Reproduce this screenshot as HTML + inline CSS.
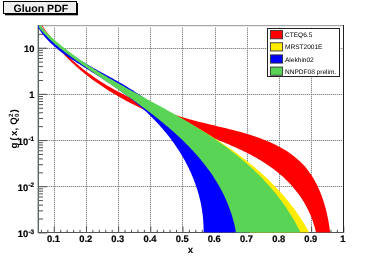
<!DOCTYPE html>
<html><head><meta charset="utf-8"><title>Gluon PDF</title>
<style>
html,body{margin:0;padding:0;background:#fff;}
body{width:382px;height:259px;overflow:hidden;font-family:"Liberation Sans",sans-serif;}
svg{display:block;will-change:transform;}
</style></head><body>
<svg width="382" height="259" viewBox="0 0 382 259" text-rendering="geometricPrecision">
<!-- title box -->
<rect x="5" y="3" width="73" height="12.3" fill="#000"/>
<rect x="3.5" y="1.5" width="73" height="12" fill="#efefef" stroke="#000" stroke-width="1"/>
<text x="40.9" y="11.7" text-anchor="middle" font-family="Liberation Sans, sans-serif" font-weight="bold" font-size="10.6" fill="#000">Gluon PDF</text>
<!-- bands -->
<defs><clipPath id="fr"><rect x="38.1" y="25.6" width="305.2" height="206.8"/></clipPath></defs>
<g stroke="#d6d6d6" stroke-width="1" shape-rendering="crispEdges"><line x1="54.5" y1="26.0" x2="54.5" y2="232.8"/><line x1="86.5" y1="26.0" x2="86.5" y2="232.8"/><line x1="118.5" y1="26.0" x2="118.5" y2="232.8"/><line x1="150.5" y1="26.0" x2="150.5" y2="232.8"/><line x1="182.5" y1="26.0" x2="182.5" y2="232.8"/><line x1="215.5" y1="26.0" x2="215.5" y2="232.8"/><line x1="247.5" y1="26.0" x2="247.5" y2="232.8"/><line x1="279.5" y1="26.0" x2="279.5" y2="232.8"/><line x1="311.5" y1="26.0" x2="311.5" y2="232.8"/><line x1="38.5" y1="186.5" x2="343.5" y2="186.5"/><line x1="38.5" y1="140.5" x2="343.5" y2="140.5"/><line x1="38.5" y1="94.5" x2="343.5" y2="94.5"/><line x1="38.5" y1="48.5" x2="343.5" y2="48.5"/></g><g stroke="#8a8a8a" stroke-width="1" stroke-dasharray="1 1" shape-rendering="crispEdges"><line x1="54.5" y1="26.0" x2="54.5" y2="232.8"/><line x1="86.5" y1="26.0" x2="86.5" y2="232.8"/><line x1="118.5" y1="26.0" x2="118.5" y2="232.8"/><line x1="150.5" y1="26.0" x2="150.5" y2="232.8"/><line x1="182.5" y1="26.0" x2="182.5" y2="232.8"/><line x1="215.5" y1="26.0" x2="215.5" y2="232.8"/><line x1="247.5" y1="26.0" x2="247.5" y2="232.8"/><line x1="279.5" y1="26.0" x2="279.5" y2="232.8"/><line x1="311.5" y1="26.0" x2="311.5" y2="232.8"/><line x1="38.5" y1="186.5" x2="343.5" y2="186.5"/><line x1="38.5" y1="140.5" x2="343.5" y2="140.5"/><line x1="38.5" y1="94.5" x2="343.5" y2="94.5"/><line x1="38.5" y1="48.5" x2="343.5" y2="48.5"/></g>
<g stroke="#505050" stroke-width="1"><line x1="41.42" y1="232.80" x2="41.42" y2="229.80"/><line x1="47.85" y1="232.80" x2="47.85" y2="229.80"/><line x1="54.29" y1="232.80" x2="54.29" y2="226.60"/><line x1="60.72" y1="232.80" x2="60.72" y2="229.80"/><line x1="67.15" y1="232.80" x2="67.15" y2="229.80"/><line x1="73.59" y1="232.80" x2="73.59" y2="229.80"/><line x1="80.02" y1="232.80" x2="80.02" y2="229.80"/><line x1="86.46" y1="232.80" x2="86.46" y2="226.60"/><line x1="92.89" y1="232.80" x2="92.89" y2="229.80"/><line x1="99.32" y1="232.80" x2="99.32" y2="229.80"/><line x1="105.76" y1="232.80" x2="105.76" y2="229.80"/><line x1="112.19" y1="232.80" x2="112.19" y2="229.80"/><line x1="118.62" y1="232.80" x2="118.62" y2="226.60"/><line x1="125.06" y1="232.80" x2="125.06" y2="229.80"/><line x1="131.49" y1="232.80" x2="131.49" y2="229.80"/><line x1="137.93" y1="232.80" x2="137.93" y2="229.80"/><line x1="144.36" y1="232.80" x2="144.36" y2="229.80"/><line x1="150.80" y1="232.80" x2="150.80" y2="226.60"/><line x1="157.23" y1="232.80" x2="157.23" y2="229.80"/><line x1="163.66" y1="232.80" x2="163.66" y2="229.80"/><line x1="170.10" y1="232.80" x2="170.10" y2="229.80"/><line x1="176.53" y1="232.80" x2="176.53" y2="229.80"/><line x1="182.96" y1="232.80" x2="182.96" y2="226.60"/><line x1="189.40" y1="232.80" x2="189.40" y2="229.80"/><line x1="195.83" y1="232.80" x2="195.83" y2="229.80"/><line x1="202.27" y1="232.80" x2="202.27" y2="229.80"/><line x1="208.70" y1="232.80" x2="208.70" y2="229.80"/><line x1="215.13" y1="232.80" x2="215.13" y2="226.60"/><line x1="221.57" y1="232.80" x2="221.57" y2="229.80"/><line x1="228.00" y1="232.80" x2="228.00" y2="229.80"/><line x1="234.44" y1="232.80" x2="234.44" y2="229.80"/><line x1="240.87" y1="232.80" x2="240.87" y2="229.80"/><line x1="247.31" y1="232.80" x2="247.31" y2="226.60"/><line x1="253.74" y1="232.80" x2="253.74" y2="229.80"/><line x1="260.17" y1="232.80" x2="260.17" y2="229.80"/><line x1="266.61" y1="232.80" x2="266.61" y2="229.80"/><line x1="273.04" y1="232.80" x2="273.04" y2="229.80"/><line x1="279.47" y1="232.80" x2="279.47" y2="226.60"/><line x1="285.91" y1="232.80" x2="285.91" y2="229.80"/><line x1="292.34" y1="232.80" x2="292.34" y2="229.80"/><line x1="298.78" y1="232.80" x2="298.78" y2="229.80"/><line x1="305.21" y1="232.80" x2="305.21" y2="229.80"/><line x1="311.64" y1="232.80" x2="311.64" y2="226.60"/><line x1="318.08" y1="232.80" x2="318.08" y2="229.80"/><line x1="324.51" y1="232.80" x2="324.51" y2="229.80"/><line x1="330.95" y1="232.80" x2="330.95" y2="229.80"/><line x1="337.38" y1="232.80" x2="337.38" y2="229.80"/><line x1="343.81" y1="232.80" x2="343.81" y2="226.60"/><line x1="38.50" y1="232.90" x2="47.00" y2="232.90"/><line x1="38.50" y1="219.00" x2="43.00" y2="219.00"/><line x1="38.50" y1="210.87" x2="43.00" y2="210.87"/><line x1="38.50" y1="205.10" x2="43.00" y2="205.10"/><line x1="38.50" y1="200.63" x2="43.00" y2="200.63"/><line x1="38.50" y1="196.97" x2="43.00" y2="196.97"/><line x1="38.50" y1="193.88" x2="43.00" y2="193.88"/><line x1="38.50" y1="191.20" x2="43.00" y2="191.20"/><line x1="38.50" y1="188.84" x2="43.00" y2="188.84"/><line x1="38.50" y1="186.73" x2="47.00" y2="186.73"/><line x1="38.50" y1="172.83" x2="43.00" y2="172.83"/><line x1="38.50" y1="164.70" x2="43.00" y2="164.70"/><line x1="38.50" y1="158.93" x2="43.00" y2="158.93"/><line x1="38.50" y1="154.46" x2="43.00" y2="154.46"/><line x1="38.50" y1="150.80" x2="43.00" y2="150.80"/><line x1="38.50" y1="147.71" x2="43.00" y2="147.71"/><line x1="38.50" y1="145.03" x2="43.00" y2="145.03"/><line x1="38.50" y1="142.67" x2="43.00" y2="142.67"/><line x1="38.50" y1="140.56" x2="47.00" y2="140.56"/><line x1="38.50" y1="126.66" x2="43.00" y2="126.66"/><line x1="38.50" y1="118.53" x2="43.00" y2="118.53"/><line x1="38.50" y1="112.76" x2="43.00" y2="112.76"/><line x1="38.50" y1="108.29" x2="43.00" y2="108.29"/><line x1="38.50" y1="104.63" x2="43.00" y2="104.63"/><line x1="38.50" y1="101.54" x2="43.00" y2="101.54"/><line x1="38.50" y1="98.86" x2="43.00" y2="98.86"/><line x1="38.50" y1="96.50" x2="43.00" y2="96.50"/><line x1="38.50" y1="94.39" x2="47.00" y2="94.39"/><line x1="38.50" y1="80.49" x2="43.00" y2="80.49"/><line x1="38.50" y1="72.36" x2="43.00" y2="72.36"/><line x1="38.50" y1="66.59" x2="43.00" y2="66.59"/><line x1="38.50" y1="62.12" x2="43.00" y2="62.12"/><line x1="38.50" y1="58.46" x2="43.00" y2="58.46"/><line x1="38.50" y1="55.37" x2="43.00" y2="55.37"/><line x1="38.50" y1="52.69" x2="43.00" y2="52.69"/><line x1="38.50" y1="50.33" x2="43.00" y2="50.33"/><line x1="38.50" y1="48.22" x2="47.00" y2="48.22"/><line x1="38.50" y1="34.32" x2="43.00" y2="34.32"/></g>
<!-- frame -->
<g shape-rendering="crispEdges">
<rect x="38" y="25" width="306" height="1" fill="#a4a4a4"/>
<rect x="38" y="26" width="306" height="1" fill="#ececec"/>
<rect x="37" y="25" width="1" height="208" fill="#c4c4c4"/>
<rect x="38" y="25" width="1" height="208" fill="#55695f"/>
<rect x="343" y="25" width="1" height="208" fill="#222"/>
<rect x="38" y="232" width="306" height="1" fill="#555"/>
</g>
<g clip-path="url(#fr)">
<path d="M42.44 25.50 L43.50 27.45 L44.90 29.44 L46.32 31.41 L47.76 33.35 L49.23 35.27 L50.72 37.16 L52.22 39.03 L53.75 40.88 L55.30 42.70 L56.87 44.50 L58.46 46.27 L60.07 48.02 L61.70 49.75 L63.34 51.45 L65.01 53.13 L66.69 54.79 L68.39 56.43 L70.12 58.04 L71.85 59.63 L73.61 61.20 L75.38 62.75 L77.17 64.28 L78.98 65.78 L80.80 67.27 L82.64 68.73 L84.50 70.17 L86.37 71.59 L88.25 72.99 L90.15 74.37 L92.07 75.74 L94.00 77.08 L95.94 78.40 L97.90 79.70 L99.87 80.98 L101.86 82.25 L103.86 83.49 L105.87 84.72 L107.89 85.92 L109.93 87.11 L111.98 88.28 L114.04 89.43 L116.11 90.57 L118.20 91.68 L120.29 92.78 L122.40 93.86 L124.51 94.93 L126.64 95.98 L128.77 97.01 L130.92 98.02 L133.08 99.02 L135.24 100.00 L137.41 100.97 L139.60 101.92 L141.79 102.85 L143.98 103.77 L146.19 104.67 L148.40 105.56 L150.63 106.43 L152.85 107.29 L155.09 108.13 L157.33 108.96 L159.58 109.78 L161.83 110.58 L164.09 111.36 L166.36 112.14 L168.63 112.90 L170.90 113.64 L173.18 114.38 L175.46 115.10 L177.75 115.80 L180.04 116.50 L182.34 117.18 L184.64 117.85 L186.94 118.51 L189.24 119.16 L191.55 119.79 L193.86 120.41 L196.17 121.03 L198.48 121.63 L200.80 122.22 L203.11 122.79 L205.43 123.36 L207.74 123.93 L210.06 124.48 L212.38 125.04 L214.69 125.59 L217.01 126.13 L219.32 126.68 L221.63 127.23 L223.94 127.79 L226.24 128.34 L228.55 128.91 L230.85 129.48 L233.14 130.06 L235.44 130.65 L237.73 131.26 L240.01 131.87 L242.29 132.51 L244.56 133.15 L246.83 133.82 L249.09 134.51 L251.34 135.22 L253.59 135.95 L255.83 136.71 L258.06 137.49 L260.29 138.30 L262.50 139.13 L264.71 140.00 L266.91 140.90 L269.09 141.83 L271.26 142.80 L273.42 143.80 L275.56 144.84 L277.67 145.91 L279.77 147.02 L281.83 148.17 L283.87 149.36 L285.88 150.60 L287.86 151.87 L289.80 153.18 L291.71 154.54 L293.58 155.95 L295.41 157.40 L297.19 158.89 L298.93 160.44 L300.62 162.03 L302.26 163.68 L303.85 165.37 L305.39 167.12 L306.87 168.91 L308.30 170.76 L309.67 172.64 L311.00 174.57 L312.28 176.55 L313.50 178.56 L314.68 180.61 L315.81 182.69 L316.89 184.81 L317.93 186.95 L318.92 189.13 L319.87 191.33 L320.77 193.55 L321.63 195.80 L322.45 198.06 L323.22 200.35 L323.96 202.65 L324.65 204.96 L325.31 207.29 L325.93 209.62 L326.51 211.96 L327.05 214.31 L327.56 216.66 L328.03 219.01 L328.47 221.36 L328.88 223.71 L329.25 226.05 L329.59 228.38 L329.90 230.70 L330.70 232.80 L316.00 232.80 L315.55 230.80 L315.00 228.57 L314.40 226.35 L313.75 224.15 L313.06 221.98 L312.31 219.84 L311.52 217.72 L310.68 215.62 L309.79 213.54 L308.86 211.49 L307.89 209.47 L306.87 207.47 L305.81 205.49 L304.71 203.55 L303.56 201.62 L302.38 199.73 L301.16 197.86 L299.90 196.02 L298.60 194.20 L297.27 192.41 L295.90 190.65 L294.50 188.92 L293.06 187.22 L291.59 185.54 L290.09 183.89 L288.56 182.28 L287.00 180.69 L285.40 179.13 L283.78 177.60 L282.14 176.10 L280.46 174.63 L278.76 173.19 L277.03 171.79 L275.28 170.41 L273.51 169.06 L271.72 167.74 L269.90 166.45 L268.06 165.18 L266.21 163.94 L264.33 162.73 L262.44 161.54 L260.53 160.37 L258.61 159.23 L256.67 158.11 L254.72 157.01 L252.75 155.93 L250.77 154.87 L248.79 153.84 L246.79 152.82 L244.78 151.81 L242.76 150.83 L240.74 149.86 L238.71 148.91 L236.68 147.97 L234.64 147.05 L232.60 146.14 L230.55 145.24 L228.50 144.35 L226.44 143.48 L224.39 142.61 L222.33 141.76 L220.26 140.91 L218.20 140.08 L216.13 139.25 L214.06 138.42 L211.98 137.61 L209.91 136.79 L207.83 135.99 L205.75 135.18 L203.67 134.38 L201.58 133.58 L199.50 132.79 L197.42 131.99 L195.33 131.19 L193.24 130.40 L191.16 129.60 L189.07 128.80 L186.98 127.99 L184.89 127.18 L182.81 126.37 L180.72 125.55 L178.64 124.73 L176.55 123.90 L174.47 123.06 L172.38 122.22 L170.30 121.36 L168.22 120.51 L166.15 119.64 L164.07 118.77 L162.00 117.88 L159.93 116.99 L157.87 116.09 L155.81 115.19 L153.75 114.27 L151.70 113.34 L149.65 112.41 L147.60 111.47 L145.56 110.51 L143.53 109.55 L141.50 108.57 L139.48 107.59 L137.46 106.59 L135.45 105.59 L133.44 104.57 L131.45 103.54 L129.46 102.50 L127.47 101.45 L125.50 100.38 L123.53 99.30 L121.57 98.22 L119.62 97.11 L117.68 96.00 L115.74 94.87 L113.82 93.73 L111.91 92.58 L110.00 91.41 L108.11 90.23 L106.22 89.03 L104.35 87.82 L102.49 86.59 L100.64 85.35 L98.80 84.10 L96.97 82.83 L95.15 81.54 L93.35 80.24 L91.56 78.92 L89.78 77.59 L88.01 76.24 L86.26 74.87 L84.52 73.48 L82.80 72.08 L81.09 70.66 L79.39 69.23 L77.71 67.78 L76.05 66.30 L74.39 64.81 L72.76 63.31 L71.14 61.78 L69.54 60.23 L67.95 58.67 L66.38 57.08 L64.82 55.48 L63.29 53.86 L61.77 52.21 L60.27 50.55 L58.78 48.87 L57.32 47.16 L55.87 45.44 L54.45 43.69 L53.04 41.92 L51.65 40.14 L50.28 38.33 L48.93 36.49 L47.60 34.64 L46.29 32.76 L45.00 30.86 L43.73 28.94 L42.49 26.99 L41.12 25.50Z" fill="#ff0000"/>
<path d="M41.09 25.50 L41.84 27.81 L43.33 29.40 L44.84 30.96 L46.36 32.51 L47.89 34.04 L49.43 35.55 L50.99 37.04 L52.56 38.51 L54.15 39.97 L55.74 41.41 L57.35 42.84 L58.97 44.25 L60.60 45.64 L62.24 47.02 L63.89 48.38 L65.56 49.73 L67.23 51.06 L68.92 52.38 L70.61 53.69 L72.32 54.98 L74.03 56.26 L75.75 57.53 L77.49 58.78 L79.23 60.02 L80.98 61.25 L82.74 62.47 L84.51 63.68 L86.28 64.88 L88.06 66.06 L89.85 67.24 L91.65 68.41 L93.46 69.57 L95.27 70.71 L97.09 71.85 L98.91 72.99 L100.75 74.11 L102.58 75.22 L104.43 76.33 L106.28 77.43 L108.13 78.53 L109.99 79.61 L111.85 80.70 L113.72 81.77 L115.59 82.84 L117.47 83.91 L119.35 84.97 L121.24 86.02 L123.13 87.07 L125.02 88.12 L126.91 89.17 L128.81 90.21 L130.71 91.24 L132.61 92.28 L134.51 93.31 L136.42 94.35 L138.33 95.38 L140.24 96.40 L142.15 97.43 L144.06 98.46 L145.97 99.48 L147.88 100.51 L149.80 101.54 L151.71 102.56 L153.63 103.59 L155.54 104.61 L157.45 105.64 L159.37 106.67 L161.28 107.70 L163.19 108.73 L165.11 109.76 L167.02 110.79 L168.93 111.83 L170.84 112.87 L172.74 113.91 L174.65 114.95 L176.55 116.00 L178.45 117.05 L180.35 118.10 L182.25 119.16 L184.14 120.22 L186.03 121.28 L187.92 122.35 L189.80 123.42 L191.69 124.50 L193.56 125.58 L195.44 126.67 L197.31 127.76 L199.18 128.86 L201.04 129.97 L202.90 131.08 L204.75 132.19 L206.60 133.32 L208.44 134.45 L210.28 135.59 L212.12 136.73 L213.95 137.88 L215.77 139.04 L217.59 140.21 L219.40 141.38 L221.20 142.57 L223.00 143.76 L224.79 144.96 L226.58 146.17 L228.36 147.39 L230.13 148.62 L231.90 149.85 L233.65 151.10 L235.40 152.36 L237.14 153.62 L238.88 154.90 L240.60 156.19 L242.32 157.48 L244.03 158.79 L245.72 160.11 L247.41 161.44 L249.09 162.78 L250.77 164.13 L252.43 165.49 L254.08 166.87 L255.72 168.25 L257.35 169.65 L258.97 171.06 L260.58 172.48 L262.18 173.91 L263.76 175.36 L265.34 176.82 L266.90 178.29 L268.45 179.77 L269.99 181.27 L271.52 182.78 L273.04 184.30 L274.54 185.84 L276.03 187.39 L277.50 188.95 L278.97 190.53 L280.42 192.12 L281.85 193.73 L283.27 195.35 L284.68 196.99 L286.08 198.64 L287.45 200.30 L288.82 201.98 L290.17 203.68 L291.50 205.39 L292.82 207.12 L294.12 208.86 L295.41 210.62 L296.68 212.39 L297.93 214.18 L299.17 215.99 L300.39 217.81 L301.60 219.66 L302.79 221.51 L303.96 223.39 L305.11 225.28 L306.25 227.19 L307.36 229.11 L308.46 231.05 L309.00 232.80 L250.00 232.80 L248.94 231.24 L248.07 229.58 L247.18 227.91 L246.30 226.25 L245.42 224.58 L244.53 222.92 L243.64 221.25 L242.74 219.59 L241.84 217.92 L240.94 216.26 L240.03 214.60 L239.12 212.94 L238.20 211.29 L237.28 209.63 L236.35 207.98 L235.42 206.33 L234.49 204.68 L233.54 203.04 L232.60 201.40 L231.64 199.76 L230.68 198.13 L229.72 196.50 L228.75 194.87 L227.77 193.25 L226.78 191.63 L225.79 190.02 L224.79 188.42 L223.78 186.81 L222.77 185.22 L221.75 183.63 L220.72 182.05 L219.68 180.47 L218.63 178.90 L217.58 177.33 L216.51 175.77 L215.44 174.22 L214.36 172.68 L213.26 171.15 L212.16 169.62 L211.05 168.10 L209.93 166.59 L208.80 165.09 L207.66 163.59 L206.51 162.11 L205.35 160.63 L204.17 159.17 L202.99 157.71 L201.79 156.26 L200.59 154.83 L199.37 153.40 L198.14 151.99 L196.90 150.58 L195.64 149.19 L194.37 147.80 L193.09 146.43 L191.80 145.07 L190.50 143.73 L189.18 142.39 L187.86 141.06 L186.52 139.74 L185.17 138.44 L183.81 137.14 L182.44 135.86 L181.06 134.58 L179.67 133.31 L178.27 132.06 L176.86 130.81 L175.44 129.57 L174.01 128.34 L172.57 127.12 L171.12 125.91 L169.67 124.71 L168.21 123.51 L166.74 122.32 L165.26 121.15 L163.78 119.97 L162.29 118.81 L160.79 117.65 L159.28 116.51 L157.77 115.36 L156.25 114.23 L154.73 113.10 L153.20 111.98 L151.67 110.87 L150.13 109.76 L148.59 108.66 L147.04 107.56 L145.49 106.47 L143.93 105.38 L142.37 104.30 L140.81 103.23 L139.24 102.16 L137.67 101.10 L136.09 100.04 L134.52 98.98 L132.94 97.93 L131.36 96.89 L129.78 95.84 L128.19 94.80 L126.61 93.77 L125.02 92.73 L123.43 91.70 L121.85 90.67 L120.26 89.64 L118.67 88.61 L117.08 87.59 L115.49 86.56 L113.90 85.54 L112.31 84.52 L110.72 83.49 L109.13 82.47 L107.54 81.44 L105.96 80.42 L104.38 79.39 L102.79 78.36 L101.21 77.33 L99.63 76.29 L98.06 75.26 L96.49 74.22 L94.92 73.17 L93.35 72.13 L91.78 71.08 L90.22 70.02 L88.67 68.96 L87.11 67.90 L85.56 66.83 L84.02 65.75 L82.48 64.67 L80.94 63.59 L79.41 62.49 L77.89 61.40 L76.37 60.29 L74.85 59.17 L73.34 58.05 L71.84 56.92 L70.34 55.79 L68.86 54.64 L67.37 53.48 L65.90 52.32 L64.44 51.14 L62.98 49.95 L61.54 48.74 L60.11 47.53 L58.69 46.30 L57.28 45.06 L55.88 43.80 L54.50 42.52 L53.14 41.23 L51.79 39.92 L50.45 38.60 L49.13 37.25 L47.83 35.89 L46.55 34.51 L45.29 33.10 L44.05 31.68 L42.82 30.23 L41.62 28.76 L40.44 27.27 L39.64 25.50Z" fill="#ffec00"/>
<path d="M40.59 25.50 L41.55 27.07 L42.73 28.58 L43.92 30.05 L45.14 31.50 L46.38 32.93 L47.64 34.32 L48.92 35.69 L50.22 37.04 L51.53 38.36 L52.87 39.66 L54.22 40.93 L55.59 42.18 L56.98 43.41 L58.38 44.62 L59.80 45.81 L61.23 46.98 L62.68 48.13 L64.14 49.26 L65.62 50.37 L67.11 51.47 L68.61 52.55 L70.12 53.62 L71.64 54.67 L73.18 55.70 L74.73 56.73 L76.28 57.74 L77.85 58.73 L79.42 59.72 L81.00 60.70 L82.59 61.66 L84.19 62.62 L85.79 63.57 L87.40 64.51 L89.02 65.44 L90.64 66.36 L92.27 67.29 L93.90 68.20 L95.53 69.11 L97.17 70.02 L98.81 70.92 L100.45 71.82 L102.09 72.72 L103.73 73.62 L105.38 74.52 L107.02 75.41 L108.67 76.31 L110.31 77.21 L111.95 78.12 L113.59 79.02 L115.23 79.93 L116.86 80.84 L118.49 81.76 L120.12 82.69 L121.74 83.62 L123.36 84.56 L124.97 85.50 L126.57 86.46 L128.17 87.42 L129.76 88.40 L131.34 89.38 L132.92 90.37 L134.49 91.38 L136.05 92.39 L137.60 93.42 L139.14 94.46 L140.68 95.50 L142.21 96.56 L143.73 97.62 L145.25 98.70 L146.76 99.79 L148.26 100.88 L149.75 101.99 L151.23 103.11 L152.71 104.23 L154.18 105.37 L155.64 106.51 L157.10 107.67 L158.55 108.84 L159.99 110.01 L161.42 111.20 L162.85 112.39 L164.27 113.59 L165.68 114.81 L167.08 116.03 L168.48 117.27 L169.87 118.51 L171.25 119.76 L172.62 121.02 L173.99 122.29 L175.35 123.57 L176.70 124.86 L178.05 126.16 L179.38 127.47 L180.71 128.79 L182.04 130.12 L183.35 131.45 L184.65 132.80 L185.95 134.15 L187.24 135.52 L188.52 136.89 L189.78 138.27 L191.04 139.66 L192.29 141.06 L193.53 142.47 L194.76 143.89 L195.98 145.32 L197.19 146.75 L198.38 148.20 L199.57 149.65 L200.74 151.11 L201.91 152.58 L203.06 154.06 L204.20 155.55 L205.33 157.04 L206.44 158.55 L207.54 160.06 L208.63 161.58 L209.71 163.12 L210.77 164.65 L211.82 166.20 L212.86 167.76 L213.88 169.32 L214.89 170.89 L215.88 172.47 L216.86 174.06 L217.83 175.66 L218.78 177.27 L219.71 178.88 L220.63 180.50 L221.53 182.13 L222.42 183.77 L223.29 185.41 L224.15 187.07 L224.99 188.73 L225.81 190.40 L226.62 192.08 L227.41 193.76 L228.18 195.46 L228.93 197.16 L229.67 198.87 L230.39 200.58 L231.09 202.31 L231.77 204.04 L232.43 205.78 L233.08 207.53 L233.71 209.28 L234.31 211.04 L234.90 212.81 L235.47 214.59 L236.01 216.37 L236.54 218.17 L237.05 219.97 L237.54 221.77 L238.00 223.59 L238.45 225.41 L238.87 227.24 L239.28 229.07 L239.66 230.91 L240.00 232.80 L203.50 232.80 L203.60 231.03 L203.60 229.24 L203.57 227.47 L203.51 225.69 L203.44 223.92 L203.34 222.16 L203.21 220.39 L203.07 218.64 L202.90 216.89 L202.71 215.14 L202.49 213.40 L202.25 211.66 L201.99 209.93 L201.71 208.21 L201.41 206.49 L201.09 204.77 L200.74 203.06 L200.37 201.36 L199.99 199.66 L199.58 197.97 L199.15 196.29 L198.70 194.61 L198.23 192.93 L197.74 191.27 L197.23 189.60 L196.71 187.95 L196.16 186.30 L195.59 184.66 L195.01 183.02 L194.40 181.40 L193.78 179.77 L193.14 178.16 L192.48 176.55 L191.80 174.95 L191.11 173.36 L190.39 171.77 L189.66 170.19 L188.92 168.62 L188.15 167.05 L187.37 165.50 L186.57 163.95 L185.76 162.41 L184.93 160.87 L184.09 159.35 L183.22 157.83 L182.35 156.32 L181.45 154.82 L180.55 153.33 L179.62 151.84 L178.69 150.36 L177.73 148.90 L176.77 147.44 L175.79 145.99 L174.79 144.54 L173.79 143.11 L172.76 141.69 L171.73 140.27 L170.68 138.87 L169.62 137.47 L168.54 136.08 L167.46 134.70 L166.36 133.34 L165.25 131.98 L164.12 130.63 L162.99 129.29 L161.84 127.96 L160.68 126.64 L159.51 125.33 L158.33 124.03 L157.14 122.74 L155.94 121.46 L154.73 120.19 L153.51 118.93 L152.27 117.68 L151.03 116.44 L149.78 115.21 L148.52 114.00 L147.25 112.79 L145.97 111.60 L144.68 110.41 L143.38 109.24 L142.08 108.08 L140.76 106.93 L139.44 105.79 L138.11 104.66 L136.77 103.54 L135.43 102.43 L134.08 101.32 L132.72 100.23 L131.35 99.15 L129.98 98.07 L128.60 97.01 L127.21 95.95 L125.82 94.90 L124.42 93.86 L123.02 92.83 L121.61 91.80 L120.19 90.78 L118.77 89.77 L117.35 88.76 L115.92 87.76 L114.48 86.77 L113.04 85.78 L111.60 84.80 L110.15 83.82 L108.70 82.85 L107.25 81.88 L105.79 80.92 L104.33 79.96 L102.86 79.01 L101.40 78.06 L99.93 77.11 L98.45 76.17 L96.98 75.23 L95.50 74.30 L94.02 73.36 L92.54 72.43 L91.06 71.50 L89.57 70.58 L88.09 69.65 L86.60 68.73 L85.11 67.80 L83.63 66.88 L82.14 65.96 L80.66 65.04 L79.17 64.11 L77.69 63.18 L76.22 62.25 L74.75 61.31 L73.28 60.37 L71.83 59.41 L70.38 58.45 L68.93 57.48 L67.50 56.51 L66.08 55.52 L64.67 54.52 L63.27 53.50 L61.88 52.47 L60.50 51.43 L59.14 50.38 L57.80 49.30 L56.47 48.21 L55.15 47.10 L53.86 45.97 L52.58 44.82 L51.32 43.65 L50.09 42.46 L48.87 41.25 L47.67 40.01 L46.50 38.74 L45.35 37.45 L44.23 36.14 L43.13 34.79 L42.05 33.42 L41.01 32.02 L39.99 30.59 L39.00 29.12 L38.04 27.63 L37.95 25.50Z" fill="#0000ff"/>
<path d="M41.37 25.50 L41.99 28.02 L43.48 29.52 L44.98 31.01 L46.50 32.49 L48.03 33.95 L49.57 35.39 L51.12 36.82 L52.68 38.23 L54.26 39.63 L55.85 41.01 L57.44 42.38 L59.05 43.73 L60.67 45.07 L62.30 46.40 L63.94 47.72 L65.58 49.02 L67.24 50.31 L68.91 51.58 L70.59 52.85 L72.27 54.10 L73.97 55.34 L75.67 56.58 L77.38 57.80 L79.10 59.00 L80.83 60.20 L82.56 61.39 L84.31 62.57 L86.06 63.74 L87.81 64.90 L89.58 66.05 L91.35 67.20 L93.13 68.33 L94.91 69.46 L96.70 70.58 L98.50 71.69 L100.30 72.79 L102.11 73.89 L103.92 74.98 L105.74 76.07 L107.56 77.14 L109.38 78.22 L111.22 79.28 L113.05 80.34 L114.89 81.40 L116.74 82.45 L118.58 83.50 L120.43 84.55 L122.29 85.59 L124.14 86.62 L126.00 87.65 L127.86 88.68 L129.73 89.71 L131.60 90.74 L133.46 91.76 L135.33 92.78 L137.21 93.80 L139.08 94.82 L140.95 95.84 L142.83 96.85 L144.70 97.87 L146.58 98.88 L148.46 99.90 L150.33 100.92 L152.21 101.93 L154.09 102.95 L155.96 103.97 L157.84 104.99 L159.71 106.02 L161.58 107.04 L163.45 108.07 L165.32 109.10 L167.19 110.13 L169.06 111.17 L170.92 112.21 L172.78 113.25 L174.64 114.30 L176.50 115.35 L178.35 116.41 L180.20 117.47 L182.04 118.53 L183.89 119.61 L185.72 120.68 L187.56 121.77 L189.39 122.85 L191.22 123.95 L193.04 125.05 L194.85 126.16 L196.66 127.27 L198.47 128.39 L200.27 129.52 L202.07 130.65 L203.86 131.79 L205.64 132.94 L207.42 134.10 L209.19 135.26 L210.96 136.43 L212.72 137.61 L214.47 138.80 L216.21 140.00 L217.95 141.20 L219.68 142.41 L221.40 143.64 L223.12 144.87 L224.83 146.11 L226.53 147.36 L228.22 148.62 L229.90 149.89 L231.57 151.17 L233.24 152.46 L234.89 153.76 L236.54 155.07 L238.18 156.39 L239.80 157.72 L241.42 159.06 L243.03 160.42 L244.63 161.78 L246.21 163.16 L247.79 164.54 L249.36 165.94 L250.91 167.36 L252.46 168.78 L253.99 170.22 L255.51 171.67 L257.02 173.13 L258.52 174.60 L260.00 176.09 L261.48 177.59 L262.94 179.10 L264.39 180.63 L265.82 182.17 L267.24 183.73 L268.65 185.30 L270.05 186.88 L271.43 188.48 L272.80 190.09 L274.16 191.72 L275.50 193.36 L276.83 195.02 L278.14 196.69 L279.44 198.38 L280.72 200.08 L281.99 201.80 L283.24 203.54 L284.48 205.29 L285.70 207.06 L286.91 208.84 L288.10 210.64 L289.27 212.46 L290.43 214.30 L291.57 216.15 L292.69 218.02 L293.80 219.91 L294.89 221.81 L295.96 223.73 L297.02 225.67 L298.06 227.63 L299.08 229.61 L300.08 231.61 L300.90 232.80 L235.30 232.80 L235.76 231.07 L235.39 229.17 L235.00 227.29 L234.58 225.43 L234.14 223.57 L233.67 221.73 L233.18 219.90 L232.67 218.09 L232.14 216.29 L231.59 214.50 L231.01 212.72 L230.41 210.96 L229.79 209.20 L229.15 207.46 L228.49 205.74 L227.81 204.02 L227.11 202.32 L226.39 200.63 L225.64 198.95 L224.88 197.28 L224.10 195.62 L223.30 193.98 L222.48 192.35 L221.65 190.72 L220.79 189.11 L219.92 187.51 L219.03 185.93 L218.12 184.35 L217.19 182.78 L216.25 181.23 L215.29 179.68 L214.31 178.15 L213.32 176.62 L212.31 175.11 L211.28 173.60 L210.24 172.11 L209.19 170.62 L208.12 169.15 L207.03 167.69 L205.93 166.23 L204.82 164.79 L203.69 163.35 L202.55 161.93 L201.40 160.51 L200.23 159.10 L199.05 157.70 L197.85 156.31 L196.65 154.93 L195.43 153.56 L194.20 152.20 L192.96 150.85 L191.70 149.50 L190.44 148.16 L189.16 146.83 L187.87 145.51 L186.58 144.20 L185.27 142.90 L183.95 141.60 L182.63 140.31 L181.29 139.03 L179.95 137.76 L178.59 136.49 L177.23 135.23 L175.86 133.98 L174.48 132.74 L173.09 131.50 L171.70 130.27 L170.29 129.05 L168.88 127.83 L167.47 126.62 L166.04 125.42 L164.61 124.22 L163.18 123.03 L161.74 121.85 L160.29 120.67 L158.84 119.50 L157.38 118.33 L155.92 117.17 L154.45 116.02 L152.98 114.87 L151.51 113.73 L150.03 112.59 L148.54 111.46 L147.06 110.34 L145.57 109.21 L144.08 108.10 L142.58 106.99 L141.08 105.88 L139.59 104.78 L138.08 103.69 L136.58 102.59 L135.08 101.51 L133.57 100.42 L132.07 99.34 L130.56 98.27 L129.05 97.20 L127.54 96.13 L126.03 95.07 L124.52 94.01 L123.01 92.95 L121.50 91.89 L119.98 90.84 L118.47 89.79 L116.96 88.74 L115.44 87.69 L113.93 86.64 L112.41 85.60 L110.90 84.56 L109.38 83.52 L107.87 82.47 L106.35 81.43 L104.83 80.39 L103.32 79.35 L101.80 78.31 L100.29 77.27 L98.77 76.23 L97.26 75.19 L95.74 74.15 L94.23 73.10 L92.72 72.06 L91.21 71.01 L89.69 69.96 L88.18 68.91 L86.67 67.86 L85.16 66.80 L83.65 65.75 L82.15 64.69 L80.64 63.62 L79.14 62.56 L77.63 61.49 L76.13 60.41 L74.63 59.34 L73.13 58.25 L71.63 57.17 L70.14 56.07 L68.65 54.97 L67.17 53.87 L65.70 52.75 L64.23 51.63 L62.77 50.49 L61.32 49.35 L59.88 48.19 L58.45 47.02 L57.04 45.84 L55.63 44.65 L54.24 43.44 L52.87 42.21 L51.51 40.98 L50.16 39.72 L48.83 38.45 L47.53 37.15 L46.24 35.84 L44.97 34.51 L43.72 33.16 L42.49 31.79 L41.28 30.40 L40.10 28.98 L38.94 27.55 L38.56 25.50Z" fill="#59d454"/>
</g>
<g font-family="Liberation Sans, sans-serif" font-weight="bold" font-size="9.4" fill="#000" stroke="#000" stroke-width="0.2"><text x="53.5" y="242.3" text-anchor="middle">0.1</text><text x="85.7" y="242.3" text-anchor="middle">0.2</text><text x="117.8" y="242.3" text-anchor="middle">0.3</text><text x="150.0" y="242.3" text-anchor="middle">0.4</text><text x="182.2" y="242.3" text-anchor="middle">0.5</text><text x="214.3" y="242.3" text-anchor="middle">0.6</text><text x="246.5" y="242.3" text-anchor="middle">0.7</text><text x="278.7" y="242.3" text-anchor="middle">0.8</text><text x="310.8" y="242.3" text-anchor="middle">0.9</text><text x="342.9" y="242.3" text-anchor="middle">1</text><text x="34.5" y="51.8" text-anchor="end">10</text><text x="34.5" y="98.0" text-anchor="end">1</text><text x="28.3" y="144.8" text-anchor="end">10</text><text x="28.4" y="141.2" font-size="6.5">-1</text><text x="28.3" y="190.9" text-anchor="end">10</text><text x="28.4" y="187.3" font-size="6.5">-2</text><text x="28.3" y="237.1" text-anchor="end">10</text><text x="28.4" y="233.5" font-size="6.5">-3</text></g>
<text x="190.4" y="252.8" text-anchor="middle" font-family="Liberation Sans, sans-serif" font-weight="bold" font-size="9.8" fill="#000">x</text>
<g transform="translate(16.7,148.4) rotate(-90)" font-family="Liberation Sans, sans-serif" font-weight="bold" fill="#000" font-size="9.6"><text x="0" y="0">g</text><text x="7.9" y="0">(</text><text x="12.5" y="0">x</text><text x="17.8" y="0">,</text><text x="23.6" y="0">Q</text><text x="31.5" y="-3.4" font-size="6.2">2</text><text x="31.5" y="2.2" font-size="6.2">0</text><text x="35.8" y="0">)</text></g>
<g font-family="Liberation Sans, sans-serif" font-size="6.55" fill="#000"><rect x="267.5" y="28.5" width="72" height="48" fill="#fff" stroke="#222" stroke-width="1"/><rect x="270.4" y="30.60" width="12.2" height="8.2" fill="#ff0000" stroke="#333" stroke-width="0.9"/><text x="285" y="37.20">CTEQ6.5</text><rect x="270.4" y="42.75" width="12.2" height="8.2" fill="#ffec00" stroke="#333" stroke-width="0.9"/><text x="285" y="49.35">MRST2001E</text><rect x="270.4" y="54.90" width="12.2" height="8.2" fill="#0000ff" stroke="#333" stroke-width="0.9"/><text x="285" y="61.50">Alekhin02</text><rect x="270.4" y="67.05" width="12.2" height="8.2" fill="#59d454" stroke="#333" stroke-width="0.9"/><text x="285" y="73.65">NNPDF08 prelim.</text></g>
</svg>
</body></html>
